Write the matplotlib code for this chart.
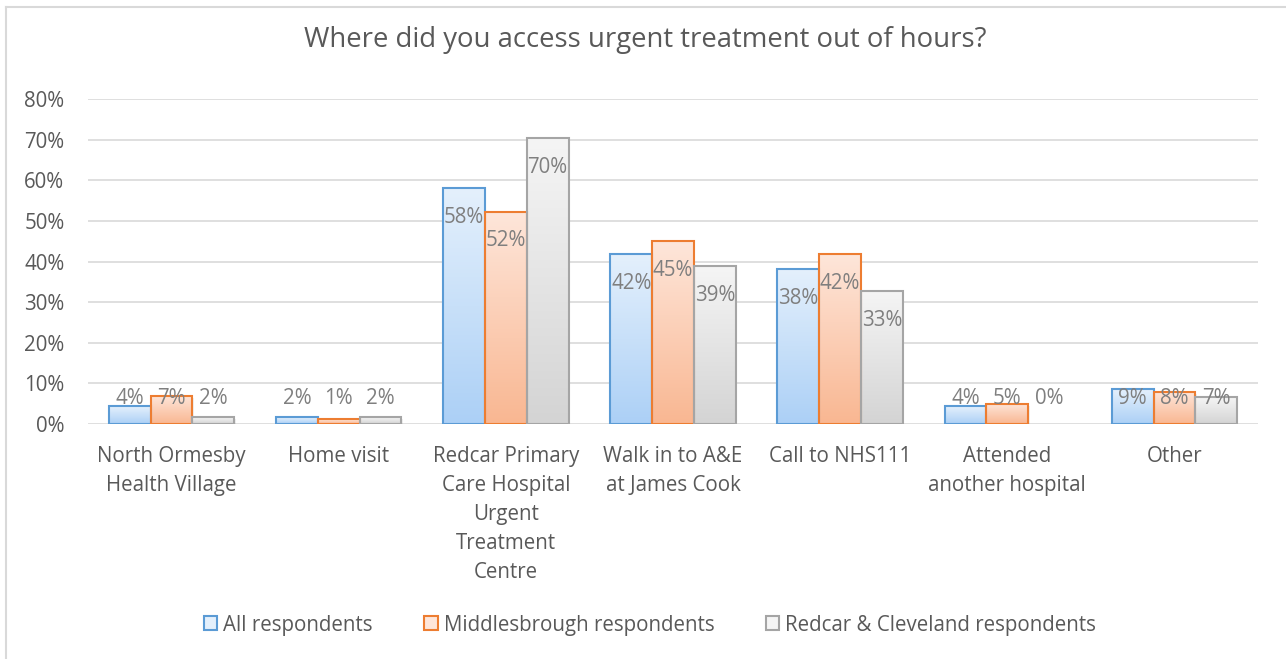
import matplotlib
matplotlib.use('Agg')
from matplotlib import pyplot as plt
from matplotlib.patches import Patch
from matplotlib.lines import Line2D
import matplotlib.colors as mcolors
import numpy as np

categories = ['North Ormesby\nHealth Village', 'Home visit',
              'Redcar Primary\nCare Hospital\nUrgent\nTreatment\nCentre',
              'Walk in to A&E\nat James Cook', 'Call to NHS111',
              'Attended\nanother hospital', 'Other']
series_names = ['All respondents', 'Middlesbrough respondents',
                'Redcar & Cleveland respondents']
all_resp = [4.4, 1.7, 58.0, 41.8, 38.2, 4.4, 8.6]
mbro_resp = [7.0, 1.2, 52.3, 45.0, 41.9, 5.0, 7.9]
rc_resp = [1.7, 1.7, 70.4, 38.8, 32.8, 0.0, 6.6]
yticks = [0, 10, 20, 30, 40, 50, 60, 70, 80]

edge_cols = ['#5b9bd5', '#ed7d31', '#a5a5a5']
top_cols = ['#e4f0fc', '#fee6da', '#f5f5f5']
bot_cols = ['#acd0f6', '#f9b792', '#d4d4d4']
txt = '#595959'
lbl = '#7f7f7f'
fs = 14.8

plt.rcParams['font.family'] = ['Open Sans', 'DejaVu Sans']

fig = plt.figure(figsize=(12.86, 6.59), dpi=100)
ax = fig.add_axes([88/1286, 1-424/659, (1258-88)/1286, (424-99)/659])

x = np.arange(len(categories))
w = 0.25
data = [all_resp, mbro_resp, rc_resp]
for i, vals in enumerate(data):
    pos = x + (i - 1) * w
    lws = [1.5 if v > 0 else 0 for v in vals]
    bars = ax.bar(pos, vals, w, facecolor='none', edgecolor=edge_cols[i],
                  linewidth=lws, zorder=3)
    c0 = np.array(mcolors.to_rgb(bot_cols[i]))
    c1 = np.array(mcolors.to_rgb(top_cols[i]))
    t = np.linspace(0, 1, 64)[:, None]
    img = (c0 * (1 - t) + c1 * t)[:, None, :]
    for b, v in zip(bars, vals):
        if v <= 0:
            continue
        ax.imshow(img, extent=[b.get_x(), b.get_x() + b.get_width(), 0, b.get_height()],
                  origin='lower', aspect='auto', zorder=2, interpolation='bilinear')
        # soft shadow
        ax.bar(b.get_x() + b.get_width()/2 + 0.008, v, w, bottom=-0.5,
               color='#000000', alpha=0.06, linewidth=0, zorder=1.5)
    for p, v in zip(pos, vals):
        ax.text(p, max(v - 7.2, 6.4), f'{v:.0f}%', ha='center', va='center',
                fontsize=fs, color=lbl, zorder=4)

ax.set_xlim(-0.5, len(categories) - 0.5)
ax.set_ylim(0, 80)
ax.set_yticks(yticks)
ax.set_yticklabels([f'{v}%' for v in yticks])
ax.set_xticks(x)
ax.set_xticklabels(categories, linespacing=1.49)
ax.tick_params(axis='both', length=0, labelsize=fs, labelcolor=txt)
ax.tick_params(axis='y', pad=17)
ax.tick_params(axis='x', pad=16)
for s in ax.spines.values():
    s.set_visible(False)
ax.grid(axis='y', color='#d9d9d9', linewidth=1.2, zorder=0)
ax.set_axisbelow(True)

fig.text(645/1286, 1-40/659, 'Where did you access urgent treatment out of hours?',
         ha='center', va='center', fontsize=19.8, color=txt)

handles = [Patch(facecolor=top_cols[i], edgecolor=edge_cols[i], linewidth=1.5)
           for i in range(3)]
fig.legend(handles, series_names, loc='center', bbox_to_anchor=(650/1286, 1-625/659),
           ncol=3, frameon=False, fontsize=fs, labelcolor=txt,
           handlelength=0.65, handleheight=0.65, handletextpad=0.3, columnspacing=2.5)

fig.add_artist(Line2D([6/1286, 6/1286], [0, 1-7/659], color='#d9d9d9', linewidth=1.5))
fig.add_artist(Line2D([6/1286, 1], [1-7/659, 1-7/659], color='#d9d9d9', linewidth=1.5))

fig.savefig('out.png', dpi=100)
